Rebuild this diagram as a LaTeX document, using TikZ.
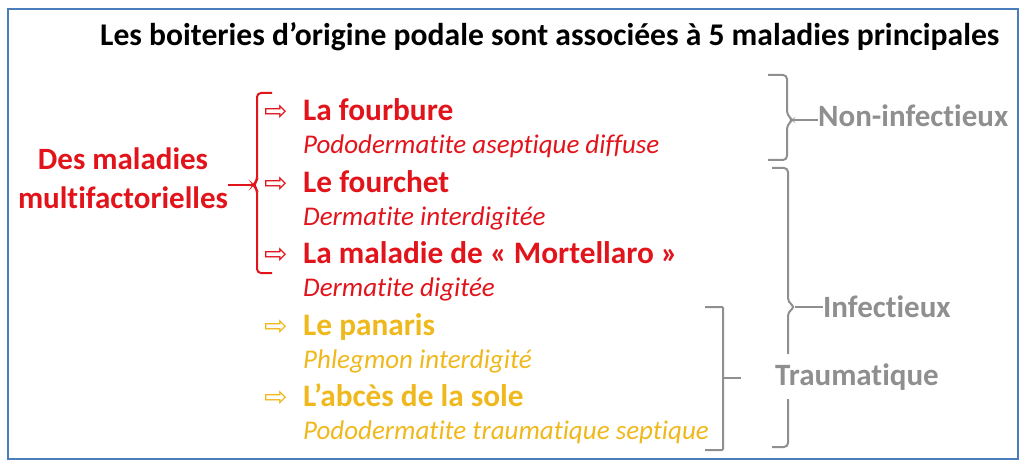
\documentclass[tikz,border=0pt]{standalone}
\usepackage{fontspec}
\setmainfont[Ligatures=NoCommon]{Carlito}
\newfontfamily\symfont{DejaVu Sans}
\usetikzlibrary{positioning}
\definecolor{mred}{HTML}{E2141B}
\definecolor{myellow}{HTML}{EFB81C}
\definecolor{mgray}{HTML}{8F8F8F}
\definecolor{mframe}{HTML}{4A7EBB}
\newcommand{\mnode}[5]{%
  \node(#1arrow)[marrow,text=#5] at (264,#2) {⇨};
  \node(#1)[mtitle,text=#5] at (303,#2) {#3};
  \node(#1sub)[msub,text=#5] at (303,#2+33) {#4}}

\begin{document}
\begin{tikzpicture}[x=1pt,y=-1pt,
        every node/.style={inner sep=0pt},
        mtitle/.style={anchor=base west,font=\fontsize{31.3}{36}\selectfont\bfseries},
        msub/.style={anchor=base west,font=\fontsize{27}{32}\selectfont\itshape},
        marrow/.style={anchor=base west,font=\symfont\fontsize{28}{32}\selectfont},
        glabel/.style={anchor=base west,text=mgray,font=\fontsize{31}{36}\selectfont\bfseries},
        gbrace/.style={draw=mgray,line width=2pt,rounded corners=4pt},
        rbrace/.style={draw=mred,line width=2pt,rounded corners=4pt}
      ]
      \useasboundingbox (0,0) rectangle (1024,465);
      \draw[mframe,line width=2pt] (8,9) rectangle (1018,459);
      \node(title)[anchor=base west,font=\fontsize{31.6}{36}\selectfont\bfseries] at (100,46)
        {Les boiteries d’origine podale sont associées à 5 maladies principales};
      % left group
      \node(des)[anchor=base,text=mred,font=\fontsize{31}{36}\selectfont\bfseries] at (123,170) {Des maladies};
      \node(multi)[anchor=base,text=mred,font=\fontsize{31}{36}\selectfont\bfseries] at (123,208) {multifactorielles};
      \draw[rbrace] (272,93) -- (257,93) -- (257,181) -- (253,185) -- (257,189) -- (257,273) -- (272,273);
      \coordinate (rmid) at (253,185);
      \draw[rbrace] (rmid) -- (rmid -| multi.east);
      % list
      \mnode{fourbure}{121}{La fourbure}{Pododermatite aseptique diffuse}{mred};
      \mnode{fourchet}{192}{Le fourchet}{Dermatite interdigitée}{mred};
      \mnode{mortellaro}{263}{La maladie de « Mortellaro »}{Dermatite digitée}{mred};
      \mnode{panaris}{335}{Le panaris}{Phlegmon interdigité}{myellow};
      \mnode{abces}{406}{L’abcès de la sole}{Pododermatite traumatique septique}{myellow};
      % right group
      \draw[gbrace] (768,75) -- (787,75) -- (787,115) -- (793,120) -- (787,125) -- (787,160) -- (768,160);
      \coordinate (nimid) at (793,120);
      \node(noninf)[glabel] at (818,127) {Non-infectieux};
      \draw[gbrace] (nimid) -- (nimid -| noninf.west);
      \draw[gbrace] (772,168) -- (788,168) -- (788,302) -- (795,307) -- (788,312) -- (788,447) -- (772,447);
      \coordinate (infmid) at (795,307);
      \node(inf)[glabel] at (823,317) {Infectieux};
      \draw[gbrace] (infmid) -- (infmid -| inf.west);
      \draw[gbrace,rounded corners=1pt] (705,307) -- (723,307) -- (723,450) -- (705,450);
      \coordinate (traumend) at (741,378);
      \draw[gbrace] (traumend -| 723,0) -- (traumend);
      \node(trauma)[glabel,fill=white,inner ysep=9pt,inner xsep=2pt] at (773,385) {Traumatique};
\end{tikzpicture}
\end{document}
